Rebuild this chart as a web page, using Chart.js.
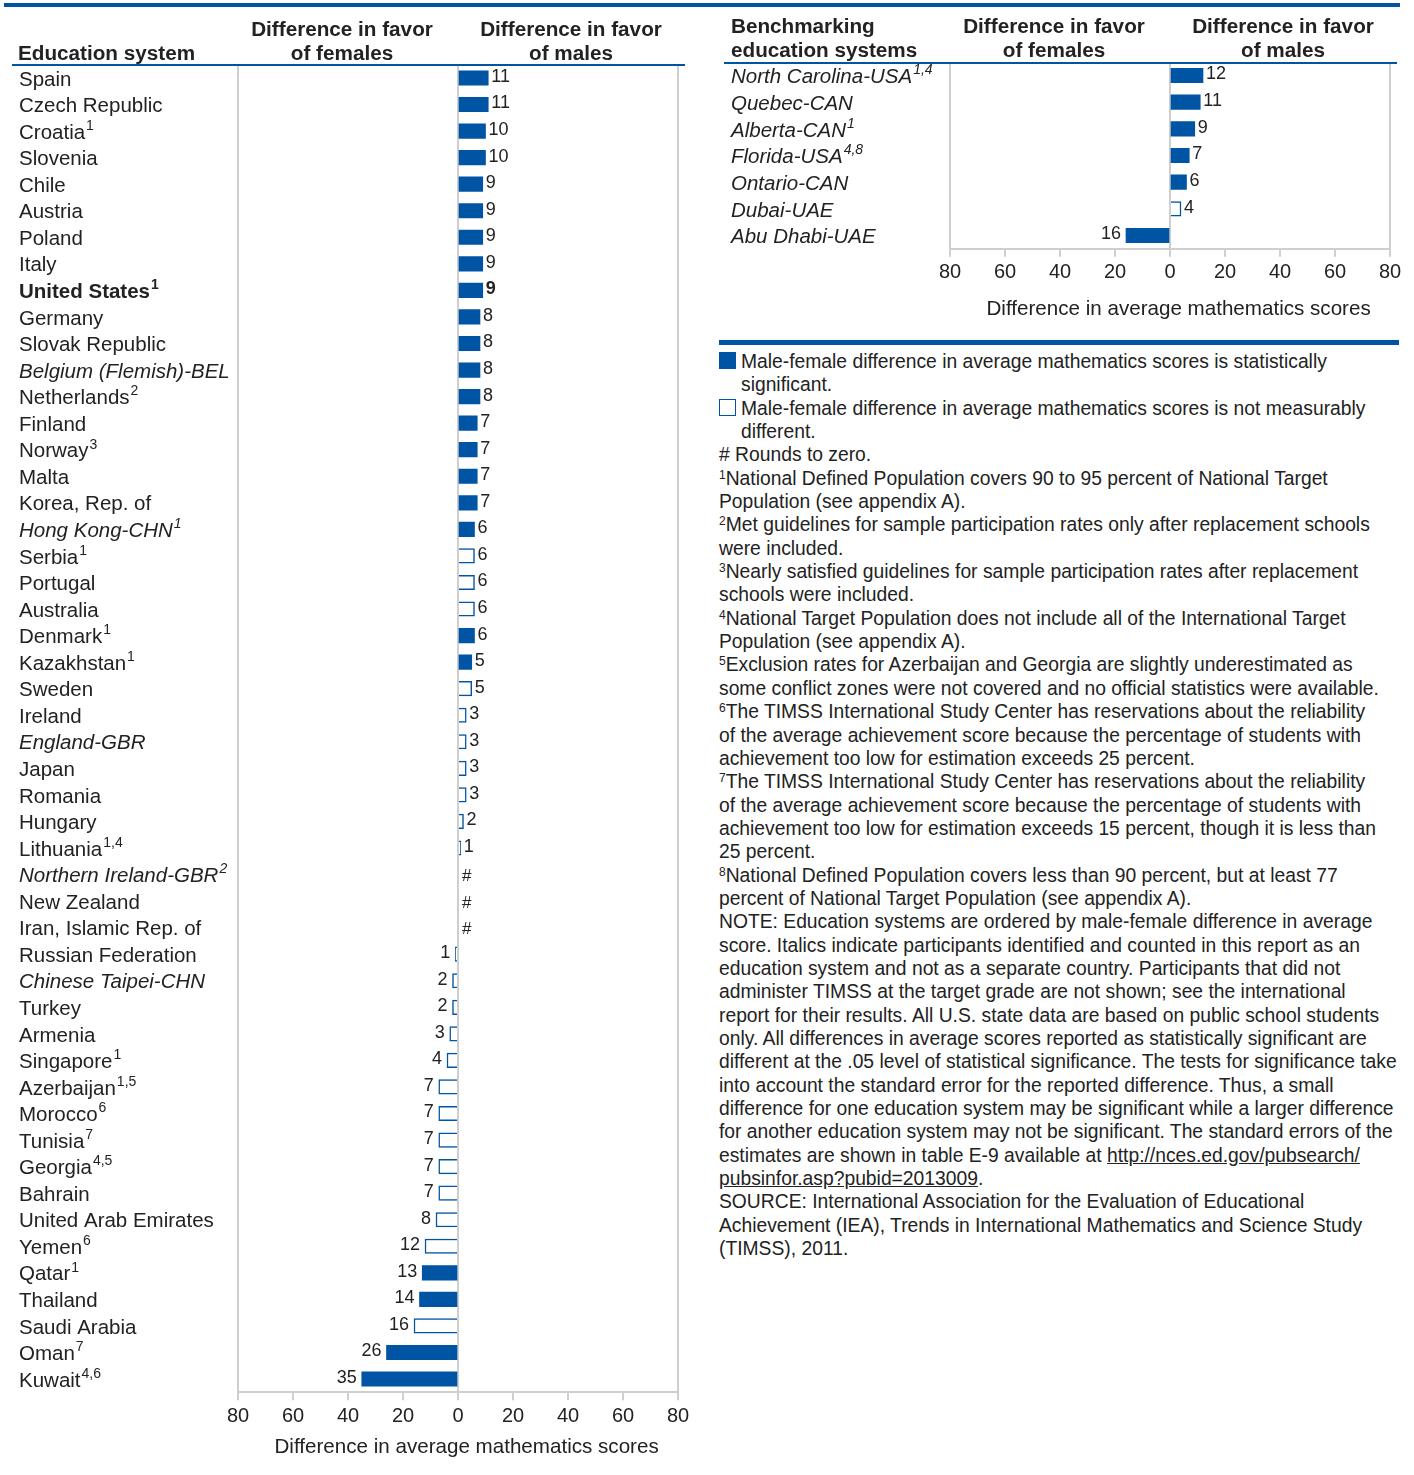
<!DOCTYPE html>
<html>
<head>
<meta charset="utf-8">
<script src="https://cdn.jsdelivr.net/npm/chart.js@4"></script>
<style>
  body { margin: 0; background: #fff; font-family: "Liberation Sans", Arial, sans-serif; color: #222; }
  #page { position: relative; width: 1414px; height: 1475px; overflow: hidden; }
  canvas { position: absolute; top: 0; }
  .rule { position: absolute; background: #0054a4; }
  .hd { position: absolute; font-weight: bold; font-size: 20.7px; line-height: 24px; white-space: nowrap; }
  .hd.c { text-align: center; width: 220px; }
  #notes { position: absolute; left: 719px; top: 350px; font-size: 19.3px; line-height: 23.35px; white-space: nowrap; }
  #notes sup { font-size: 12px; vertical-align: 6px; line-height: 0; }
  .key { position: relative; padding-left: 22px; }
  .key i { position: absolute; left: 0; top: 2px; width: 17px; height: 17px; border: 1.5px solid #0054a4; box-sizing: border-box; }
  .key i.f { background: #0054a4; }
  a { color: #222; text-decoration: underline; }
</style>
</head>
<body>
<div id="page">
  <canvas id="main" width="700" height="1475" style="left:0"></canvas>
  <canvas id="bench" width="700" height="330" style="left:712px"></canvas>

  <div class="rule" style="left:4px; top:3px; width:1396px; height:4px"></div>
  <div class="rule" style="left:12px; top:64px; width:673px; height:2px"></div>
  <div class="rule" style="left:724px; top:62px; width:673px; height:2px"></div>
  <div class="rule" style="left:719px; top:340px; width:680px; height:5px"></div>

  <div class="hd" style="left:18px; top:41px">Education system</div>
  <div class="hd c" style="left:232px; top:17px">Difference in favor<br>of females</div>
  <div class="hd c" style="left:461px; top:17px">Difference in favor<br>of males</div>

  <div class="hd" style="left:731px; top:14px">Benchmarking<br>education systems</div>
  <div class="hd c" style="left:944px; top:14px">Difference in favor<br>of females</div>
  <div class="hd c" style="left:1173px; top:14px">Difference in favor<br>of males</div>

  <div id="notes">
    <div class="key"><i class="f"></i>Male-female difference in average mathematics scores is statistically<br>significant.</div>
    <div class="key"><i></i>Male-female difference in average mathematics scores is not measurably<br>different.</div>
    <div># Rounds to zero.</div>
    <div><sup>1</sup>National Defined Population covers 90 to 95 percent of National Target<br>Population (see appendix A).</div>
    <div><sup>2</sup>Met guidelines for sample participation rates only after replacement schools<br>were included.</div>
    <div><sup>3</sup>Nearly satisfied guidelines for sample participation rates after replacement<br>schools were included.</div>
    <div><sup>4</sup>National Target Population does not include all of the International Target<br>Population (see appendix A).</div>
    <div><sup>5</sup>Exclusion rates for Azerbaijan and Georgia are slightly underestimated as<br>some conflict zones were not covered and no official statistics were available.</div>
    <div><sup>6</sup>The TIMSS International Study Center has reservations about the reliability<br>of the average achievement score because the percentage of students with<br>achievement too low for estimation exceeds 25 percent.</div>
    <div><sup>7</sup>The TIMSS International Study Center has reservations about the reliability<br>of the average achievement score because the percentage of students with<br>achievement too low for estimation exceeds 15 percent, though it is less than<br>25 percent.</div>
    <div><sup>8</sup>National Defined Population covers less than 90 percent, but at least 77<br>percent of National Target Population (see appendix A).</div>
    <div>NOTE: Education systems are ordered by male-female difference in average<br>score. Italics indicate participants identified and counted in this report as an<br>education system and not as a separate country. Participants that did not<br>administer TIMSS at the target grade are not shown; see the international<br>report for their results. All U.S. state data are based on public school students<br>only. All differences in average scores reported as statistically significant are<br>different at the .05 level of statistical significance. The tests for significance take<br>into account the standard error for the reported difference. Thus, a small<br>difference for one education system may be significant while a larger difference<br>for another education system may not be significant. The standard errors of the<br>estimates are shown in table E-9 available at <a>http://nces.ed.gov/pubsearch/<br>pubsinfor.asp?pubid=2013009</a>.</div>
    <div>SOURCE: International Association for the Evaluation of Educational<br>Achievement (IEA), Trends in International Mathematics and Science Study<br>(TIMSS), 2011.</div>
  </div>
</div>

<script>
const BLUE = '#0054a4';
const FONT = '"Liberation Sans", Arial, sans-serif';

// education systems (positive = favors males, negative = favors females)
const systems = ['Spain','Czech Republic','Croatia','Slovenia','Chile','Austria','Poland','Italy','United States','Germany',
  'Slovak Republic','Belgium (Flemish)-BEL','Netherlands','Finland','Norway','Malta','Korea, Rep. of','Hong Kong-CHN','Serbia','Portugal',
  'Australia','Denmark','Kazakhstan','Sweden','Ireland','England-GBR','Japan','Romania','Hungary','Lithuania',
  'Northern Ireland-GBR','New Zealand','Iran, Islamic Rep. of','Russian Federation','Chinese Taipei-CHN','Turkey','Armenia','Singapore','Azerbaijan','Morocco',
  'Tunisia','Georgia','Bahrain','United Arab Emirates','Yemen','Qatar','Thailand','Saudi Arabia','Oman','Kuwait'];
const systemNotes = ['','','1','','','','','','1','',
  '','','2','','3','','','1','1','',
  '','1','1','','','','','','','1,4',
  '2','','','','','','','1','1,5','6',
  '7','4,5','','','6','1','','','7','4,6'];
const systemGaps = [11,11,10,10,9,9,9,9,9,8,
  8,8,8,7,7,7,7,6,6,6,
  6,6,5,5,3,3,3,3,2,1,
  0,0,0,-1,-2,-2,-3,-4,-7,-7,
  -7,-7,-7,-8,-12,-13,-14,-16,-26,-35];
const systemSignificant = [1,1,1,1,1,1,1,1,1,1,
  1,1,1,1,1,1,1,1,0,0,
  0,1,1,0,0,0,0,0,0,0,
  0,0,0,0,0,0,0,0,0,0,
  0,0,0,0,0,1,1,0,1,1];
const italicSystems = ['Belgium (Flemish)-BEL','Hong Kong-CHN','England-GBR','Northern Ireland-GBR','Chinese Taipei-CHN'];

// benchmarking systems
const benchSystems = ['North Carolina-USA','Quebec-CAN','Alberta-CAN','Florida-USA','Ontario-CAN','Dubai-UAE','Abu Dhabi-UAE'];
const benchNotes = ['1,4','','1','4,8','','',''];
const benchGaps = [12,11,9,7,6,4,-16];
const benchSignificant = [1,1,1,1,1,0,1];

const scoreTicks = [80,60,40,20,0,20,40,60,80];

const rowLabels = {
  id: 'rowLabels',
  beforeDatasetsDraw(chart) {
    const { ctx, chartArea: a } = chart;
    const zero = chart.scales.x.getPixelForValue(0);
    ctx.save();
    ctx.strokeStyle = '#cfcfcf';
    ctx.lineWidth = 2;
    ctx.beginPath();
    [a.left, zero, a.right].forEach((x) => { ctx.moveTo(x, a.top); ctx.lineTo(x, a.bottom); });
    ctx.stroke();
    ctx.restore();
  },
  afterDraw(chart, args, o) {
    const { ctx } = chart;
    const ys = chart.scales.y;
    const xs = chart.scales.x;
    ctx.save();
    ctx.fillStyle = '#222';
    ctx.textBaseline = 'middle';
    o.names.forEach((name, i) => {
      const py = ys.getPixelForValue(i) + 2;
      const style = (o.allItalic || o.italic.includes(name) ? 'italic ' : '') + (o.bold === name ? 'bold ' : '');
      ctx.textAlign = 'left';
      ctx.font = style + '20.5px ' + FONT;
      ctx.fillText(name, o.x, py);
      if (o.notes[i]) {
        const w = ctx.measureText(name).width;
        ctx.font = style + '14px ' + FONT;
        ctx.fillText(o.notes[i], o.x + w + 1, py - 7);
      }
    });
    const meta = chart.getDatasetMeta(0);
    const zero = xs.getPixelForValue(0);
    meta.data.forEach((bar, i) => {
      const v = o.values[i];
      const bold = o.bold === o.names[i] ? 'bold ' : '';
      ctx.font = bold + '18px ' + FONT;
      const py = bar.y - 1;
      if (v > 0) { ctx.textAlign = 'left'; ctx.fillText(String(v), bar.x + 3, py); }
      else if (v < 0) { ctx.textAlign = 'right'; ctx.fillText(String(-v), bar.x - 5, py); }
      else { ctx.font = '17px ' + FONT; ctx.textAlign = 'left'; ctx.fillText('#', zero + 4, py + 3); }
    });
    ctx.restore();
  }
};

function makeChart(id, names, notes, values, sig, extra) {
  return new Chart(document.getElementById(id), {
    type: 'bar',
    data: {
      labels: names,
      datasets: [{
        data: values,
        backgroundColor: sig.map((s) => s ? BLUE : '#ffffff'),
        borderColor: BLUE,
        borderWidth: sig.map((s) => s ? 0 : 1.5),
        barThickness: 14.5
      }]
    },
    options: {
      indexAxis: 'y',
      responsive: false,
      animation: false,
      layout: { padding: extra.padding },
      scales: {
        x: {
          min: -80, max: 80,
          afterFit: (scale) => { scale.height = extra.axisHeight; },
          ticks: {
            stepSize: 20,
            padding: 4,
            color: '#222',
            font: { size: 20, family: FONT },
            callback: (v, i) => scoreTicks[i]
          },
          grid: { drawOnChartArea: false, drawTicks: true, tickLength: 8, color: '#cfcfcf', lineWidth: 2 },
          border: { color: '#cfcfcf', width: 2 },
          title: {
            display: true,
            // leading spaces nudge the centred title a little to the right, as in the original
            text: '\u00a0\u00a0\u00a0Difference in average mathematics scores',
            color: '#222',
            font: { size: 20.6, family: FONT },
            padding: { top: 2, bottom: 2 }
          }
        },
        y: { display: false }
      },
      plugins: {
        legend: { display: false },
        tooltip: { enabled: false },
        rowLabels: {
          names, notes, values,
          x: 19,
          italic: italicSystems,
          allItalic: extra.allItalic,
          bold: extra.bold
        }
      }
    },
    plugins: [rowLabels]
  });
}

makeChart('main', systems, systemNotes, systemGaps, systemSignificant, {
  padding: { left: 238, right: 22, top: 64.7, bottom: 13.3 },
  axisHeight: 69.4,
  bold: 'United States'
});

makeChart('bench', benchSystems, benchNotes, benchGaps, benchSignificant, {
  padding: { left: 238, right: 22, top: 62.2, bottom: 6.6 },
  axisHeight: 74.6,
  allItalic: true
});
</script>
</body>
</html>
